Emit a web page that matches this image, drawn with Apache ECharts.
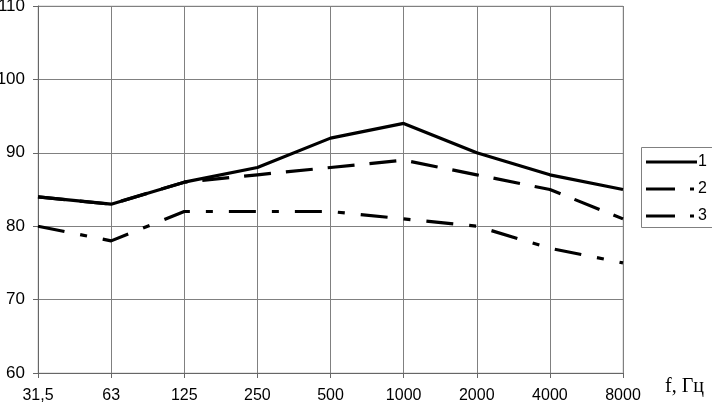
<!DOCTYPE html>
<html>
<head>
<meta charset="utf-8">
<script src="https://cdn.jsdelivr.net/npm/echarts@6/dist/echarts.min.js"></script>
<style>html,body{margin:0;padding:0;background:#fff}#c{width:712px;height:406px}</style>
</head>
<body>
<div id="c"></div>
<script>
const categories = ['31,5', '63', '125', '250', '500', '1000', '2000', '4000', '8000'];
const series1 = [84, 83, 86, 88, 92, 94, 90, 87, 85];
const series2 = [84, 83, 86, 87, 88, 89, 87, 85, 81];
const series3 = [80, 78, 82, 82, 82, 81, 80, 77, 75];
const seriesNames = ['1', '2', '3'];
const yTicks = {min: 60, max: 110, interval: 10};
const xAxisTitle = 'f, Гц';

const chart = echarts.init(document.getElementById('c'), null, {renderer: 'canvas'});
const font = '"Liberation Sans", Arial, sans-serif';
const narrow = '"Liberation Sans Narrow", "Arial Narrow", "Liberation Sans", sans-serif';
const dashStyles = ['solid', [27, 15], [27, 16, 7, 16]];
const legendDash = [null, [29, 15, 4, 40], [29, 15, 4, 40]];
const legendRows = [162, 189, 216];

const legendGraphics = [{
  type: 'rect', shape: {x: 641.5, y: 147.5, width: 80, height: 80},
  style: {fill: '#fff', stroke: '#808080', lineWidth: 1}, z: 10
}];
seriesNames.forEach((n, i) => {
  legendGraphics.push({
    type: 'line', shape: {x1: 646, y1: legendRows[i], x2: 697, y2: legendRows[i]},
    style: {stroke: '#000', lineWidth: 3, lineDash: legendDash[i]}, z: 11
  });
  legendGraphics.push({
    type: 'text', x: 698, y: legendRows[i],
    style: {text: n, fontSize: 16, fontFamily: font, fill: '#000', verticalAlign: 'middle', align: 'left'}, z: 11
  });
});

chart.setOption({
  animation: false,
  backgroundColor: '#fff',
  grid: {left: 38, top: 6, right: 89, bottom: 33, show: true, borderColor: '#c8c8c8', borderWidth: 1,
         containLabel: false, outerBoundsMode: 'none'},
  xAxis: {
    type: 'category', data: categories, boundaryGap: false,
    axisLine: {lineStyle: {color: '#666', width: 1}},
    axisTick: {show: true, length: 5, inside: false, alignWithLabel: true, lineStyle: {color: '#666'}},
    axisLabel: {color: '#000', fontSize: 16, fontFamily: font, margin: 15},
    splitLine: {show: true, lineStyle: {color: '#808080', width: 1}}
  },
  yAxis: {
    type: 'value', min: yTicks.min, max: yTicks.max, interval: yTicks.interval,
    axisLine: {show: true, lineStyle: {color: '#666', width: 1}},
    axisTick: {show: true, length: 5, lineStyle: {color: '#666'}},
    axisLabel: {color: '#000', fontSize: 17, fontFamily: narrow, margin: 13},
    splitLine: {show: true, lineStyle: {color: '#808080', width: 1}}
  },
  legend: {show: false, data: seriesNames},
  graphic: legendGraphics.concat([{
    type: 'text', left: 665, top: 377,
    style: {text: xAxisTitle, fontSize: 20, fontFamily: '"Liberation Serif", "Times New Roman", serif', fill: '#000'}
  }]),
  series: [series1, series2, series3].map((d, i) => ({
    name: seriesNames[i], type: 'line', data: d, symbol: 'none',
    lineStyle: {color: '#000', width: 3.2, type: dashStyles[i]}, itemStyle: {color: '#000'}
  }))
});
</script>
</body>
</html>
